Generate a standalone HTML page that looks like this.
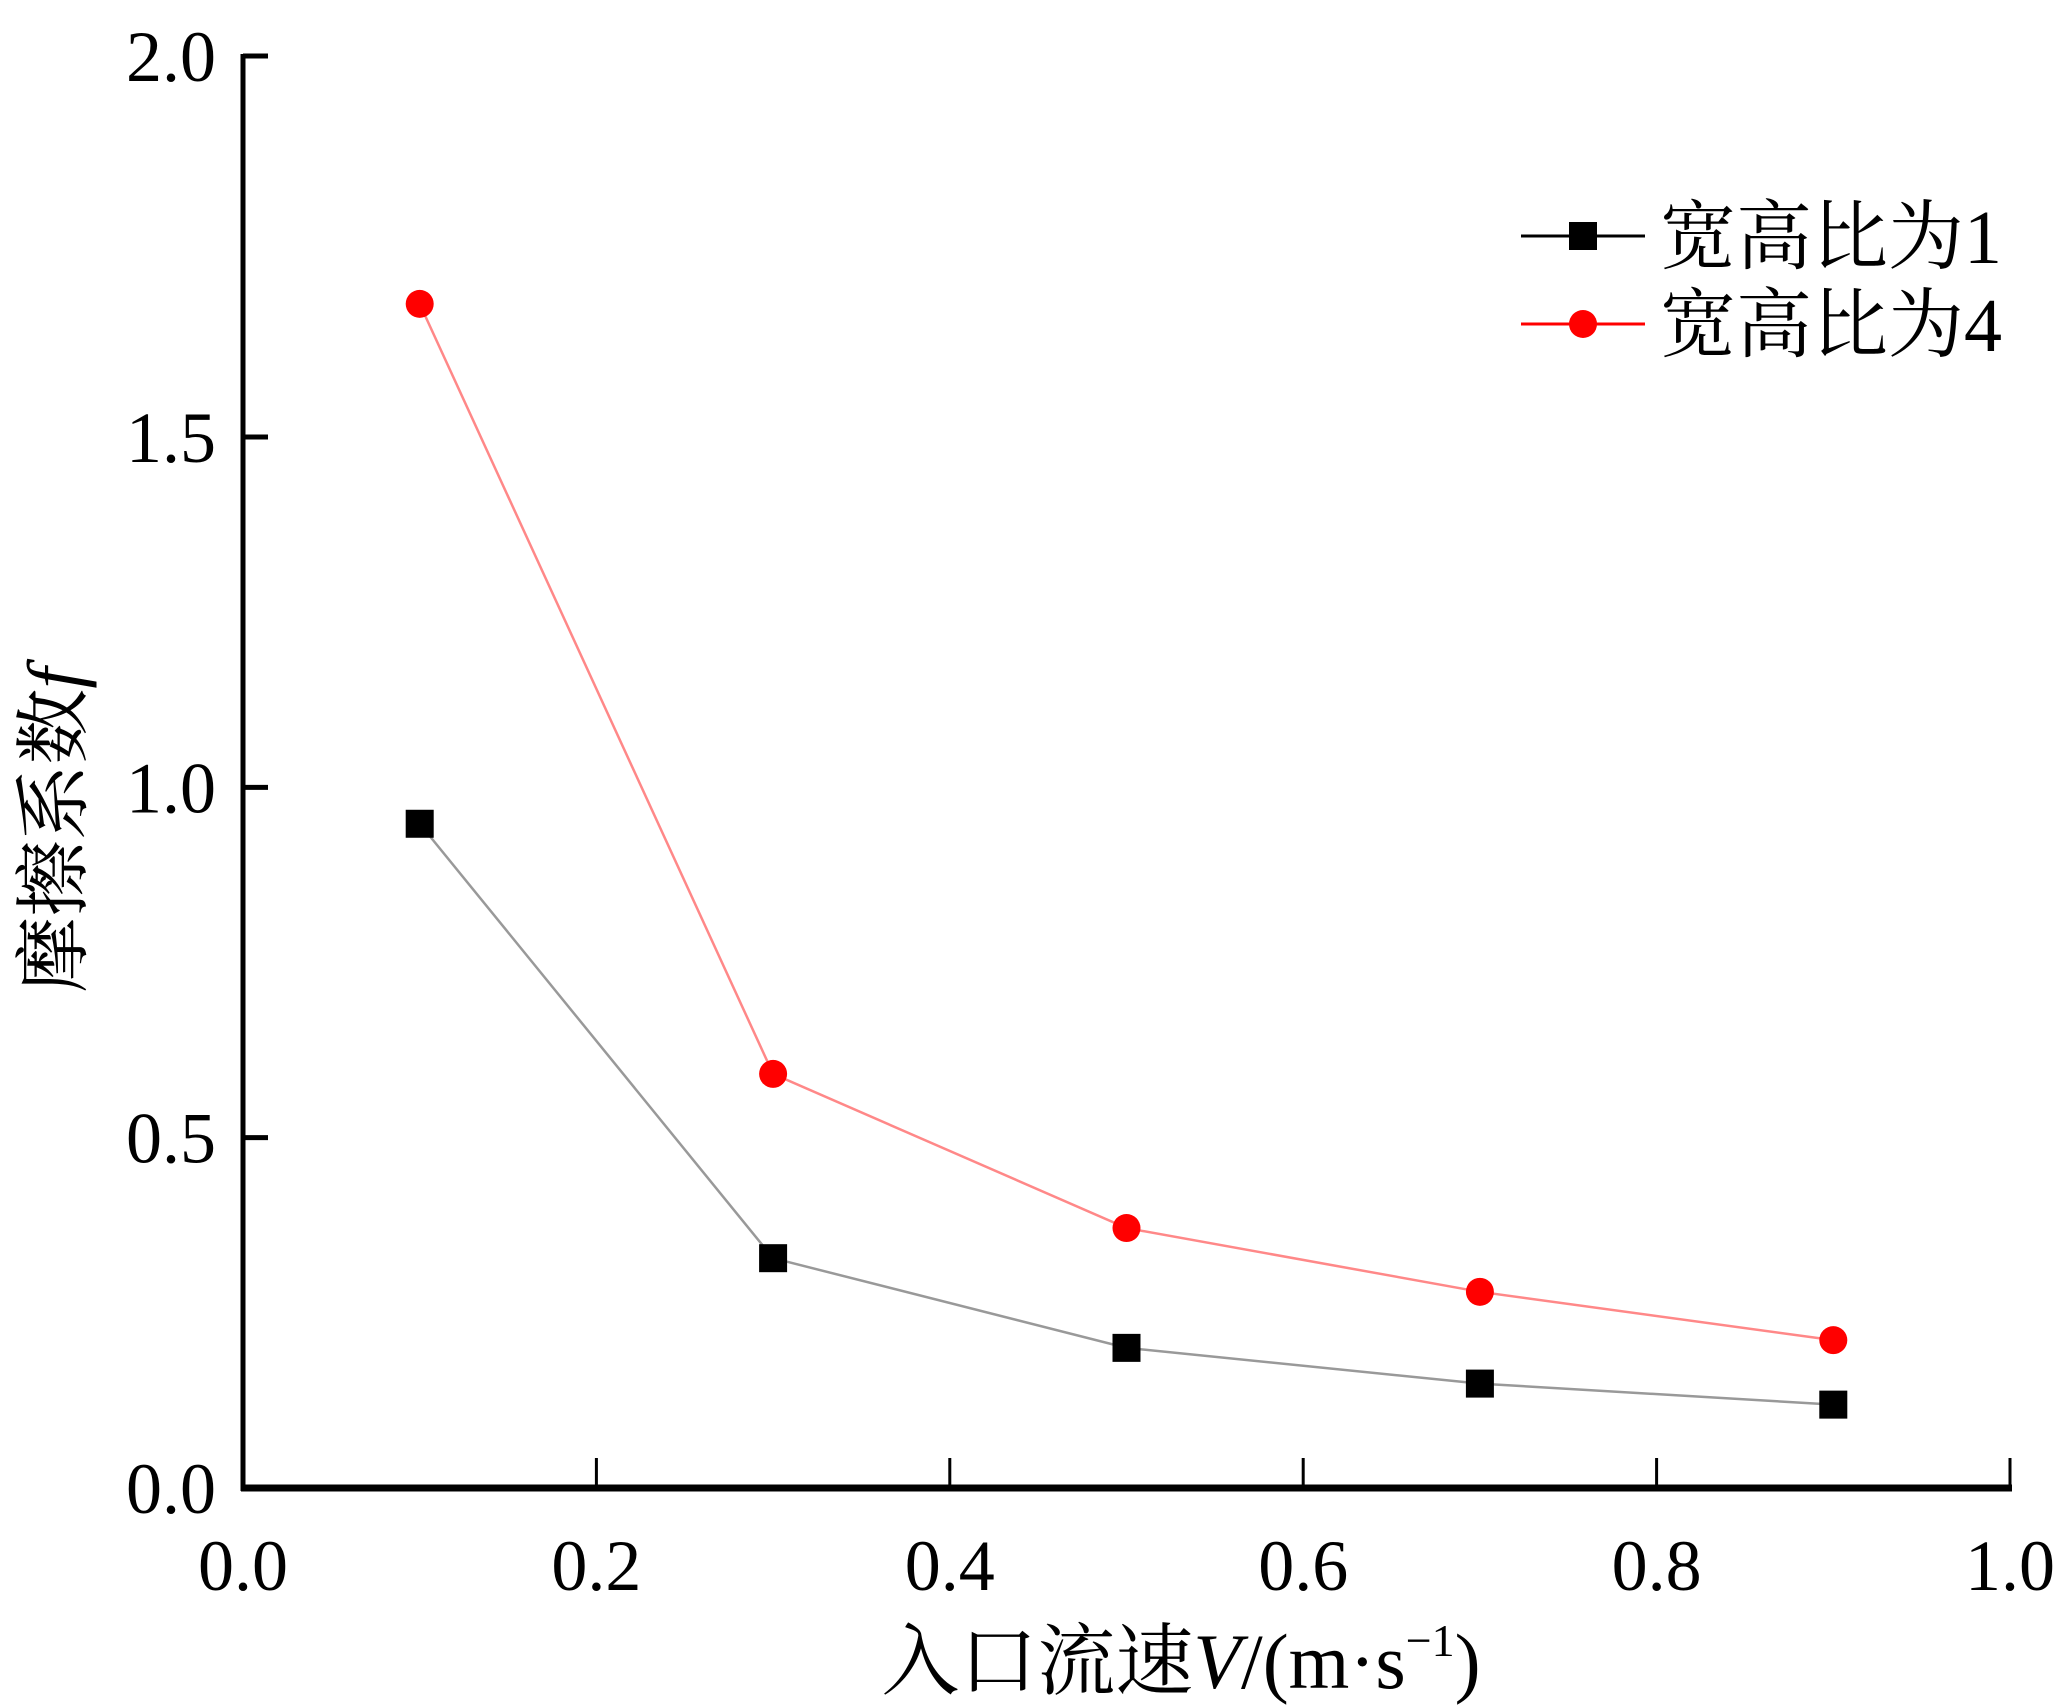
<!DOCTYPE html>
<html><head><meta charset="utf-8"><style>
body{margin:0;background:#fff}
svg{display:block}
text{font-family:"Liberation Serif","Noto Serif CJK SC",serif;fill:#000}
</style></head><body>
<svg id="chart" width="2056" height="1708" viewBox="0 0 2056 1708" xmlns="http://www.w3.org/2000/svg"></svg>
<script>
const xCategories=[0.1,0.3,0.5,0.7,0.9];
const seriesAR1=[0.948,0.328,0.200,0.149,0.119];
const seriesAR4=[1.690,0.591,0.371,0.280,0.211];
const xTickLabels=["0.0","0.2","0.4","0.6","0.8","1.0"];
const yTickLabels=["0.0","0.5","1.0","1.5","2.0"];
const NS="http://www.w3.org/2000/svg";
const svg=document.getElementById('chart');
const X0=243,X1=2010,Y0=1488;
function sx(v){return X0+(X1-X0)*v;}
function sy(v){return Y0-(Y0-437)*v/1.5;}
function tickY(v){return v>1.75?56:sy(v);} // the reference's top tick sits above the linear position
function el(t,a,p){const e=document.createElementNS(NS,t);for(const k in a)e.setAttribute(k,a[k]);(p||svg).appendChild(e);return e;}
let ax=el('line',{x1:X0,y1:54,x2:X0,y2:Y0+3,stroke:'#000','stroke-width':5});


ax=el('line',{x1:X0-2,y1:Y0,x2:X1+2,y2:Y0,stroke:'#000','stroke-width':7});


xTickLabels.forEach((l,i)=>{const v=parseFloat(l);const x=sx(v);
  if(i>0){const t=el('line',{x1:x,y1:Y0,x2:x,y2:Y0-30,stroke:'#000','stroke-width':3});
  
  }
  const tx=el('text',{x:x,y:1590,'font-size':72,'text-anchor':'middle'});tx.textContent=l;
  
  });
yTickLabels.forEach((l,i)=>{const v=parseFloat(l);const y=tickY(v);
  if(i>0){const t=el('line',{x1:X0,y1:y,x2:X0+25,y2:y,stroke:'#000','stroke-width':5});
  
  }
  const tx=el('text',{x:216,y:y+25,'font-size':72,'text-anchor':'end'});tx.textContent=l;
  
  });
function series(vals,color,lineColor,marker,name){
  const pts=vals.map((v,i)=>sx(xCategories[i])+','+sy(v)).join(' ');
  const pl=el('polyline',{points:pts,fill:'none',stroke:lineColor,'stroke-width':2.5});
  
  
  vals.forEach((v,i)=>{const x=sx(xCategories[i]),y=sy(v);let m;
    if(marker==='sq') m=el('rect',{x:x-14,y:y-14,width:28,height:28,fill:color});
    else m=el('circle',{cx:x,cy:y,r:14,fill:color});
    
    });
}
series(seriesAR1,'#000','#999','sq','aspect-ratio-1');
series(seriesAR4,'#f00','#f88','ci','aspect-ratio-4');
function legend(y,color,marker,label,name){
  const g=el('g',{});
  
  
  el('line',{x1:1521,y1:y,x2:1645,y2:y,stroke:color,'stroke-width':3},g);
  if(marker==='sq') el('rect',{x:1569,y:y-14,width:28,height:28,fill:color},g);
  else el('circle',{cx:1583,cy:y,r:14,fill:color},g);
  const t=el('text',{x:1660,y:y+27,'font-size':76},g);t.textContent=label;
}
legend(236,'#000','sq','宽高比为1','legend-entry-ar1');
legend(324,'#f00','ci','宽高比为4','legend-entry-ar4');
const xt=el('text',{x:1181,y:1688,'font-size':78,'text-anchor':'middle'});


xt.innerHTML='入口流速<tspan font-style="italic">V</tspan>/(m·s<tspan font-size="46" dy="-32">−1</tspan><tspan dy="32">)</tspan>';
const yt=el('text',{x:0,y:0,'font-size':76,'text-anchor':'middle',transform:'translate(80,830) rotate(-90)'});


yt.innerHTML='摩擦系数<tspan font-style="italic">f</tspan>';
</script>
</body></html>
